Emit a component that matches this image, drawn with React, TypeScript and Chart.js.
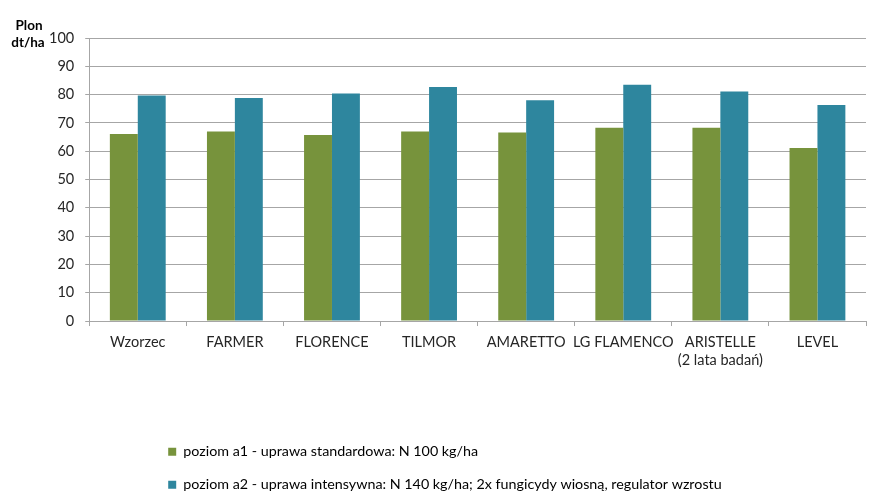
import React, { useEffect, useRef } from 'react';
import { Chart, registerables } from 'chart.js';

Chart.register(...registerables);

const categories: string[][] = [
  ['Wzorzec'],
  ['FARMER'],
  ['FLORENCE'],
  ['TILMOR'],
  ['AMARETTO'],
  ['LG FLAMENCO'],
  ['ARISTELLE', '(2 lata badań)'],
  ['LEVEL'],
];
const seriesA1 = [66.1, 67.0, 65.7, 67.0, 66.6, 68.3, 68.3, 61.1];
const seriesA2 = [79.7, 78.8, 80.4, 82.7, 78.0, 83.5, 81.1, 76.3];
const seriesNames = [
  'poziom a1 - uprawa standardowa: N 100 kg/ha',
  'poziom a2 - uprawa intensywna: N 140 kg/ha; 2x fungicydy wiosną, regulator wzrostu',
];
const seriesColors = ['#77933C', '#2E869E'];
const yMin = 0;
const yMax = 100;
const yStep = 10;
const axisTitle = ['Plon', 'dt/ha'];

const FONT = 'Lato, "Open Sans", sans-serif';

const axisTitlePlugin = {
  id: 'axisTitle',
  afterDraw(chart: any) {
    const ctx = chart.ctx;
    ctx.save();
    ctx.font = `bold 13.5px ${FONT}`;
    ctx.fillStyle = '#000000';
    ctx.textAlign = 'center';
    ctx.textBaseline = 'middle';
    ctx.fillText(axisTitle[0], 29, 26);
    ctx.fillText(axisTitle[1], 28, 43);
    ctx.restore();
  },
};

const legendPlace = {
  id: 'legendPlace',
  afterLayout(chart: any) {
    const l = chart.legend;
    if (!l) return;
    const h = l.bottom - l.top;
    l.left = 149.5;
    l.top = 426;
    l.bottom = l.top + h;
  },
};

export default function App() {
  const ref = useRef<HTMLCanvasElement | null>(null);
  useEffect(() => {
    document.body.style.margin = '0';
    const canvas = ref.current;
    if (!canvas) return;
    const chart = new Chart(canvas, {
      type: 'bar',
      data: {
        labels: categories,
        datasets: [
          {
            label: seriesNames[0],
            data: seriesA1,
            backgroundColor: seriesColors[0],
            categoryPercentage: 0.575,
            barPercentage: 1,
          },
          {
            label: seriesNames[1],
            data: seriesA2,
            backgroundColor: seriesColors[1],
            categoryPercentage: 0.575,
            barPercentage: 1,
          },
        ],
      },
      options: {
        responsive: false,
        animation: false,
        layout: { padding: { left: 38, right: 4, top: 38, bottom: 52 } },
        plugins: {
          tooltip: { enabled: false },
          legend: {
            position: 'bottom',
            align: 'start',
            labels: {
              boxWidth: 8,
              boxHeight: 8,
              padding: 18.7,
              color: '#000000',
              font: { family: FONT, size: 14.3 },
            },
          },
        },
        scales: {
          x: {
            grid: {
              display: true,
              drawOnChartArea: false,
              offset: true,
              tickLength: 5,
              color: '#A6A6A6',
            },
            border: { display: true, color: '#A6A6A6' },
            ticks: {
              color: '#262626',
              padding: 7,
              maxRotation: 0,
              autoSkip: false,
              font: { family: FONT, size: 14.5, lineHeight: 1.24 },
            },
          },
          y: {
            min: yMin,
            max: yMax,
            ticks: {
              stepSize: yStep,
              color: '#262626',
              padding: 11,
              font: { family: FONT, size: 14.5 },
            },
            grid: { color: '#A6A6A6', tickLength: 4 },
            border: { display: true, color: '#A6A6A6' },
          },
        },
      },
      plugins: [axisTitlePlugin, legendPlace],
    } as any);
    return () => chart.destroy();
  }, []);
  return (
    <div style={{ width: 870, height: 504 }}>
      <canvas ref={ref} width={870} height={504} />
    </div>
  );
}
